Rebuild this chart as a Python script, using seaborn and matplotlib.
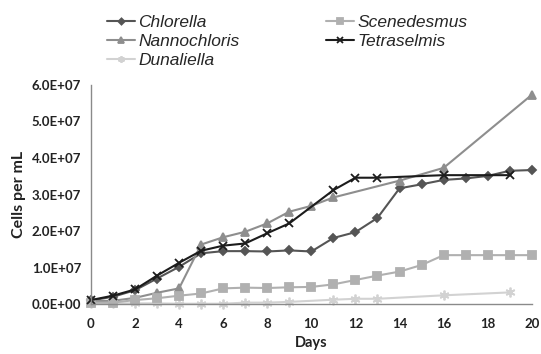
import matplotlib
matplotlib.use('agg')
import matplotlib.pyplot as plt
import seaborn as sns
from matplotlib.ticker import MultipleLocator, FuncFormatter

# data (cells per mL)
chlorella_days = list(range(0, 21))
chlorella = [1.0e6, 2.0e6, 3.8e6, 7.0e6, 1.02e7, 1.39e7, 1.45e7, 1.45e7, 1.44e7, 1.47e7, 1.44e7,
             1.81e7, 1.97e7, 2.36e7, 3.17e7, 3.28e7, 3.40e7, 3.44e7, 3.51e7, 3.65e7, 3.67e7]

nanno_days = [0, 1, 2, 3, 4, 5, 6, 7, 8, 9, 10, 11, 14, 16, 20]
nanno = [0.8e6, 0.9e6, 1.7e6, 3.1e6, 4.3e6, 1.63e7, 1.83e7, 1.98e7, 2.21e7, 2.53e7, 2.69e7,
         2.92e7, 3.38e7, 3.73e7, 5.73e7]

duna_days = [0, 1, 2, 3, 4, 5, 6, 7, 8, 9, 11, 12, 13, 16, 19]
duna = [0.2e6, 0.2e6, 0.2e6, 0.2e6, 0.1e6, 0.1e6, 0.1e6, 0.4e6, 0.4e6, 0.6e6,
        1.2e6, 1.45e6, 1.45e6, 2.4e6, 3.2e6]

scene_days = list(range(0, 21))
scene = [0.4e6, 0.4e6, 1.1e6, 1.6e6, 2.3e6, 2.9e6, 4.3e6, 4.5e6, 4.4e6, 4.6e6, 4.7e6,
         5.4e6, 6.6e6, 7.8e6, 8.9e6, 1.07e7, 1.34e7, 1.34e7, 1.34e7, 1.34e7, 1.34e7]

tetra_days = [0, 1, 2, 3, 4, 5, 6, 7, 8, 9, 11, 12, 13, 16, 19]
tetra = [1.1e6, 2.3e6, 4.0e6, 7.8e6, 1.13e7, 1.46e7, 1.6e7, 1.66e7, 1.94e7, 2.21e7,
         3.12e7, 3.46e7, 3.46e7, 3.53e7, 3.53e7]

series = [
    ('Chlorella', chlorella_days, chlorella, '#555555', 'D', 4.5),
    ('Nannochloris', nanno_days, nanno, '#8e8e8e', '^', 6),
    ('Dunaliella', duna_days, duna, '#d2d2d2', (6, 2, 0), 7),
    ('Scenedesmus', scene_days, scene, '#b0b0b0', 's', 6),
    ('Tetraselmis', tetra_days, tetra, '#1c1c1c', 'x', 6),
]

sns.set_style('white')
plt.rcParams['font.family'] = ['Liberation Sans', 'DejaVu Sans']

fig = plt.figure(figsize=(5.41, 3.54), dpi=100)
ax = fig.add_axes([0.168, 0.141, 0.815, 0.619])

for name, d, v, c, m, ms in series:
    sns.lineplot(x=d, y=v, ax=ax, color=c, marker=m, markersize=ms, linewidth=1.5,
                 markeredgecolor=c, markeredgewidth=1.3, label=name, clip_on=False)

ax.set_xlim(0, 20)
ax.set_ylim(0, 6e7)
ax.xaxis.set_major_locator(MultipleLocator(2))
ax.xaxis.set_minor_locator(MultipleLocator(1))
ax.yaxis.set_major_locator(MultipleLocator(1e7))
ax.yaxis.set_minor_locator(MultipleLocator(2e6))
ax.yaxis.set_major_formatter(FuncFormatter(lambda v, p: '%.1fE+%02d' % (v / 1e7, 7) if v > 0 else '0.0E+00'))

for s in ['top', 'right']:
    ax.spines[s].set_visible(False)
for s in ['left', 'bottom']:
    ax.spines[s].set_color('#8a8a8a')
    ax.spines[s].set_linewidth(1.0)

ax.tick_params(axis='both', which='major', direction='out', length=4, width=1, color='#8a8a8a',
               labelcolor='#222222', pad=3)
ax.tick_params(axis='both', which='minor', direction='out', length=3, width=0.8, color='#9a9a9a')
ax.tick_params(axis='x', which='major', pad=6)
for lab in ax.get_xticklabels() + ax.get_yticklabels():
    lab.set_fontfamily('Lato')
    lab.set_fontweight('bold')
    lab.set_fontsize(9.5)

ax.set_xlabel('Days', fontsize=10.5, fontweight='bold', family='Lato', color='#222222', labelpad=4)
ax.set_ylabel('Cells per mL', fontsize=11.5, fontweight='bold', family='Lato', color='#222222', labelpad=4)

ax.get_legend().remove()
h, l = ax.get_legend_handles_labels()
fig.legend(h, l, loc='upper left', bbox_to_anchor=(0.198, 0.957), ncol=2, frameon=False,
           prop={'style': 'italic', 'size': 12.5}, handlelength=1.6, handletextpad=0.2,
           columnspacing=5.0, labelspacing=0.2, borderpad=0, borderaxespad=0, markerscale=0.7)

plt.savefig('out.png', dpi=100)
